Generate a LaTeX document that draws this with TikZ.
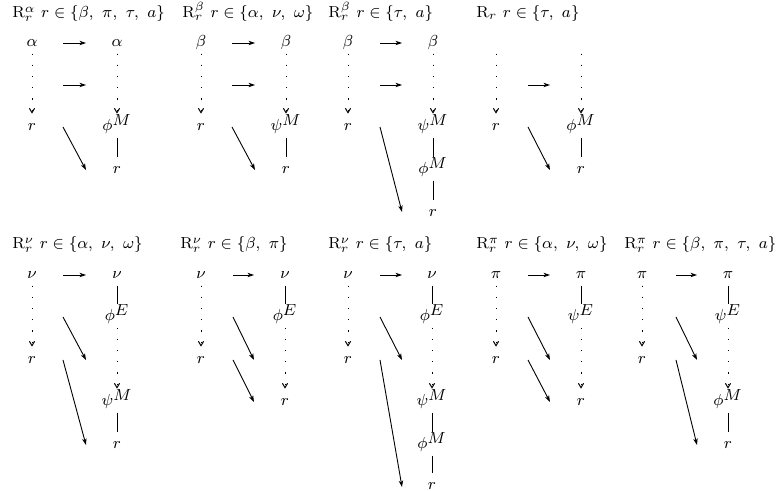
\documentclass[tikz,border=0pt]{standalone}
\usetikzlibrary{arrows.meta}
\begin{document}
\begin{tikzpicture}[x=0.5pt,y=-0.5pt,
  font=\fontsize{8}{10}\selectfont,
  lbl/.style={anchor=base, inner sep=2pt, text height=1.5ex, text depth=0.25ex},
  ttl/.style={anchor=base west, inner sep=0pt},
  dotarrow/.style={line width=0.5pt, dash pattern=on 0.6pt off 5pt, -{Straight Barb[length=2.2pt,width=2.6pt,line width=0.5pt]}, shorten >=0pt},
  solidarrow/.style={line width=0.45pt, -{Stealth[length=3.2pt,width=2.2pt,inset=0.8pt]}},
  plainline/.style={line width=0.45pt}
]
\useasboundingbox (0,0) rectangle (777,491);

% ===== Top panel 1 =====
\node[ttl] (T1) at (12,18) {$\mathrm{R}^{\alpha}_{r}\ r\in\{\beta,\ \pi,\ \tau,\ a\}$};
\node[lbl] (A1a) at (32,47) {$\alpha$};
\node[lbl] (A1r) at (32,131) {$r$};
\node[lbl] (A1b) at (117,47) {$\alpha$};
\node[lbl] (A1m) at (117,131) {$\phi^{\textstyle M}$};
\node[lbl] (A1s) at (117,174) {$r$};
\coordinate (A1h1s) at (63,43); \coordinate (A1h1e) at (86,43);
\coordinate (A1h2s) at (63,85); \coordinate (A1h2e) at (86,85);
\coordinate (A1ds) at (63,127); \coordinate (A1de) at (86,170);
\draw[dotarrow] (A1a) -- (A1r);
\draw[dotarrow] (A1b) -- (A1m);
\draw[plainline] (A1m) -- (A1s);
\draw[solidarrow] (A1h1s) -- (A1h1e);
\draw[solidarrow] (A1h2s) -- (A1h2e);
\draw[solidarrow] (A1ds) -- (A1de);

% ===== Top panel 2 =====
\node[ttl] (T2) at (182,18) {$\mathrm{R}^{\beta}_{r}\ r\in\{\alpha,\ \nu,\ \omega\}$};
\node[lbl] (A2a) at (201,47) {$\beta$};
\node[lbl] (A2r) at (201,131) {$r$};
\node[lbl] (A2b) at (286,47) {$\beta$};
\node[lbl] (A2m) at (286,131) {$\psi^{\textstyle M}$};
\node[lbl] (A2s) at (286,174) {$r$};
\coordinate (A2h1s) at (232,43); \coordinate (A2h1e) at (255,43);
\coordinate (A2h2s) at (232,85); \coordinate (A2h2e) at (255,85);
\coordinate (A2ds) at (232,127); \coordinate (A2de) at (255,170);
\draw[dotarrow] (A2a) -- (A2r);
\draw[dotarrow] (A2b) -- (A2m);
\draw[plainline] (A2m) -- (A2s);
\draw[solidarrow] (A2h1s) -- (A2h1e);
\draw[solidarrow] (A2h2s) -- (A2h2e);
\draw[solidarrow] (A2ds) -- (A2de);

% ===== Top panel 3 =====
\node[ttl] (T3) at (328,18) {$\mathrm{R}^{\beta}_{r}\ r\in\{\tau,\ a\}$};
\node[lbl] (A3a) at (348,47) {$\beta$};
\node[lbl] (A3r) at (348,131) {$r$};
\node[lbl] (A3b) at (433,47) {$\beta$};
\node[lbl] (A3m) at (433,131) {$\psi^{\textstyle M}$};
\node[lbl] (A3n) at (433,174) {$\phi^{\textstyle M}$};
\node[lbl] (A3s) at (433,217) {$r$};
\coordinate (A3h1s) at (380,43); \coordinate (A3h1e) at (402,43);
\coordinate (A3h2s) at (380,85); \coordinate (A3h2e) at (402,85);
\coordinate (A3ds) at (380,127); \coordinate (A3de) at (402,212);
\draw[dotarrow] (A3a) -- (A3r);
\draw[dotarrow] (A3b) -- (A3m);
\draw[plainline] (A3m) -- (A3n);
\draw[plainline] (A3n) -- (A3s);
\draw[solidarrow] (A3h1s) -- (A3h1e);
\draw[solidarrow] (A3h2s) -- (A3h2e);
\draw[solidarrow] (A3ds) -- (A3de);

% ===== Top panel 4 =====
\node[ttl] (T4) at (476,18) {$\mathrm{R}_{r}\ r\in\{\tau,\ a\}$};
\node[lbl] (A4a) at (496,47) {\phantom{$\beta$}};
\node[lbl] (A4r) at (496,131) {$r$};
\node[lbl] (A4b) at (581,47) {\phantom{$\beta$}};
\node[lbl] (A4m) at (581,131) {$\phi^{\textstyle M}$};
\node[lbl] (A4s) at (581,174) {$r$};
\coordinate (A4h2s) at (528,85); \coordinate (A4h2e) at (550,85);
\coordinate (A4ds) at (528,127); \coordinate (A4de) at (550,170);
\draw[dotarrow] (A4a) -- (A4r);
\draw[dotarrow] (A4b) -- (A4m);
\draw[plainline] (A4m) -- (A4s);
\draw[solidarrow] (A4h2s) -- (A4h2e);
\draw[solidarrow] (A4ds) -- (A4de);

% ===== Bottom panel 1 =====
\node[ttl] (T5) at (12,249) {$\mathrm{R}^{\nu}_{r}\ r\in\{\alpha,\ \nu,\ \omega\}$};
\node[lbl] (B1a) at (32,279) {$\nu$};
\node[lbl] (B1r) at (32,364) {$r$};
\node[lbl] (B1b) at (117,279) {$\nu$};
\node[lbl] (B1e) at (117,321) {$\phi^{\textstyle E}$};
\node[lbl] (B1m) at (117,406) {$\psi^{\textstyle M}$};
\node[lbl] (B1s) at (117,449) {$r$};
\coordinate (B1hs) at (63,275); \coordinate (B1he) at (86,275);
\coordinate (B1d1s) at (63,317); \coordinate (B1d1e) at (86,360);
\coordinate (B1d2s) at (63,360); \coordinate (B1d2e) at (86,445);
\draw[dotarrow] (B1a) -- (B1r);
\draw[plainline] (B1b) -- (B1e);
\draw[dotarrow] (B1e) -- (B1m);
\draw[plainline] (B1m) -- (B1s);
\draw[solidarrow] (B1hs) -- (B1he);
\draw[solidarrow] (B1d1s) -- (B1d1e);
\draw[solidarrow] (B1d2s) -- (B1d2e);

% ===== Bottom panel 2 =====
\node[ttl] (T6) at (180,249) {$\mathrm{R}^{\nu}_{r}\ r\in\{\beta,\ \pi\}$};
\node[lbl] (B2a) at (201,279) {$\nu$};
\node[lbl] (B2r) at (201,364) {$r$};
\node[lbl] (B2b) at (285,279) {$\nu$};
\node[lbl] (B2e) at (285,321) {$\phi^{\textstyle E}$};
\node[lbl] (B2s) at (285,406) {$r$};
\coordinate (B2hs) at (233,275); \coordinate (B2he) at (254,275);
\coordinate (B2d1s) at (233,317); \coordinate (B2d1e) at (254,360);
\coordinate (B2d2s) at (233,360); \coordinate (B2d2e) at (254,402);
\draw[dotarrow] (B2a) -- (B2r);
\draw[plainline] (B2b) -- (B2e);
\draw[dotarrow] (B2e) -- (B2s);
\draw[solidarrow] (B2hs) -- (B2he);
\draw[solidarrow] (B2d1s) -- (B2d1e);
\draw[solidarrow] (B2d2s) -- (B2d2e);

% ===== Bottom panel 3 =====
\node[ttl] (T7) at (328,249) {$\mathrm{R}^{\nu}_{r}\ r\in\{\tau,\ a\}$};
\node[lbl] (B3a) at (348,279) {$\nu$};
\node[lbl] (B3r) at (348,364) {$r$};
\node[lbl] (B3b) at (432,279) {$\nu$};
\node[lbl] (B3e) at (432,321) {$\phi^{\textstyle E}$};
\node[lbl] (B3m) at (432,406) {$\psi^{\textstyle M}$};
\node[lbl] (B3n) at (432,449) {$\phi^{\textstyle M}$};
\node[lbl] (B3s) at (432,490) {$r$};
\coordinate (B3hs) at (380,275); \coordinate (B3he) at (402,275);
\coordinate (B3d1s) at (380,317); \coordinate (B3d1e) at (402,360);
\coordinate (B3d2s) at (380,360); \coordinate (B3d2e) at (402,487);
\draw[dotarrow] (B3a) -- (B3r);
\draw[plainline] (B3b) -- (B3e);
\draw[dotarrow] (B3e) -- (B3m);
\draw[plainline] (B3m) -- (B3n);
\draw[plainline] (B3n) -- (B3s);
\draw[solidarrow] (B3hs) -- (B3he);
\draw[solidarrow] (B3d1s) -- (B3d1e);
\draw[solidarrow] (B3d2s) -- (B3d2e);

% ===== Bottom panel 4 =====
\node[ttl] (T8) at (476,249) {$\mathrm{R}^{\pi}_{r}\ r\in\{\alpha,\ \nu,\ \omega\}$};
\node[lbl] (B4a) at (496,279) {$\pi$};
\node[lbl] (B4r) at (496,364) {$r$};
\node[lbl] (B4b) at (581,279) {$\pi$};
\node[lbl] (B4e) at (581,321) {$\psi^{\textstyle E}$};
\node[lbl] (B4s) at (581,406) {$r$};
\coordinate (B4hs) at (528,275); \coordinate (B4he) at (550,275);
\coordinate (B4d1s) at (528,317); \coordinate (B4d1e) at (550,360);
\coordinate (B4d2s) at (528,360); \coordinate (B4d2e) at (550,402);
\draw[dotarrow] (B4a) -- (B4r);
\draw[plainline] (B4b) -- (B4e);
\draw[dotarrow] (B4e) -- (B4s);
\draw[solidarrow] (B4hs) -- (B4he);
\draw[solidarrow] (B4d1s) -- (B4d1e);
\draw[solidarrow] (B4d2s) -- (B4d2e);

% ===== Bottom panel 5 =====
\node[ttl] (T9) at (624,249) {$\mathrm{R}^{\pi}_{r}\ r\in\{\beta,\ \pi,\ \tau,\ a\}$};
\node[lbl] (B5a) at (642,279) {$\pi$};
\node[lbl] (B5r) at (642,364) {$r$};
\node[lbl] (B5b) at (728,279) {$\pi$};
\node[lbl] (B5e) at (728,321) {$\psi^{\textstyle E}$};
\node[lbl] (B5m) at (728,406) {$\phi^{\textstyle M}$};
\node[lbl] (B5s) at (728,449) {$r$};
\coordinate (B5hs) at (676,275); \coordinate (B5he) at (697,275);
\coordinate (B5d1s) at (676,317); \coordinate (B5d1e) at (697,360);
\coordinate (B5d2s) at (676,360); \coordinate (B5d2e) at (697,445);
\draw[dotarrow] (B5a) -- (B5r);
\draw[plainline] (B5b) -- (B5e);
\draw[dotarrow] (B5e) -- (B5m);
\draw[plainline] (B5m) -- (B5s);
\draw[solidarrow] (B5hs) -- (B5he);
\draw[solidarrow] (B5d1s) -- (B5d1e);
\draw[solidarrow] (B5d2s) -- (B5d2e);
\end{tikzpicture}
\end{document}
